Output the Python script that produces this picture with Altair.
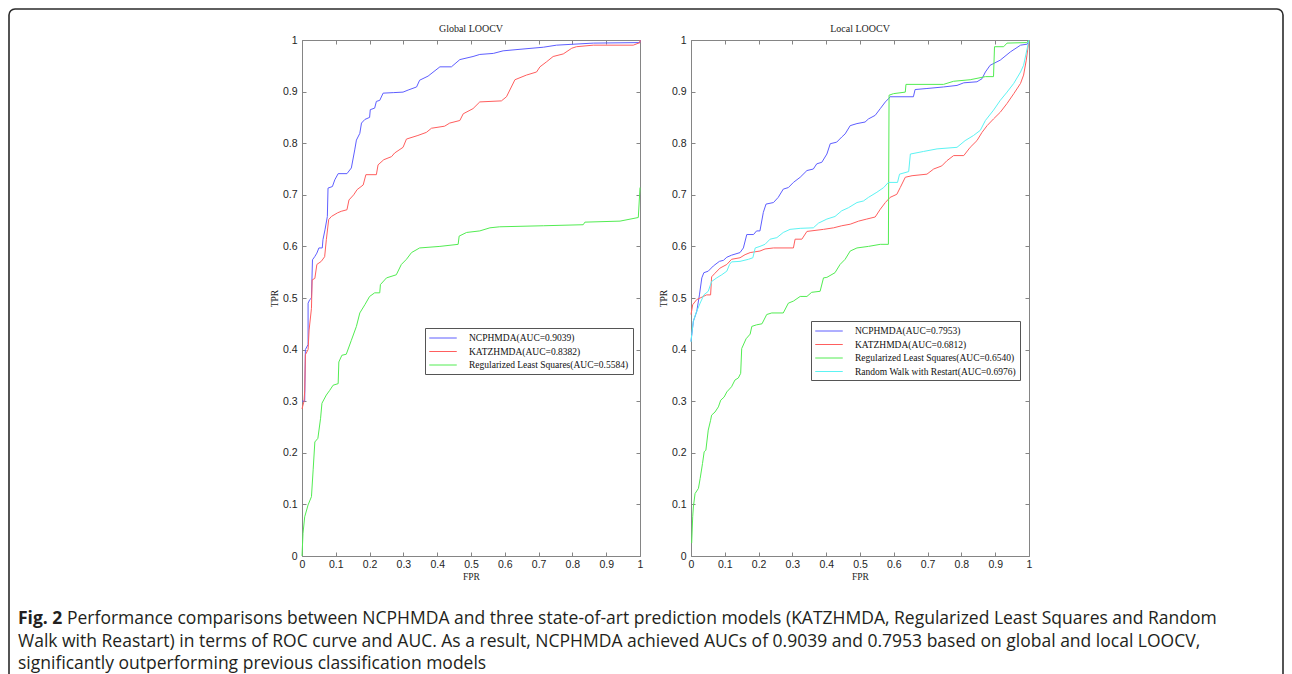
import altair as alt
import pandas as pd

# ---------------- data ----------------
TICKS = [0, 0.1, 0.2, 0.3, 0.4, 0.5, 0.6, 0.7, 0.8, 0.9, 1]

G_LABELS = ["NCPHMDA(AUC=0.9039)", "KATZHMDA(AUC=0.8382)",
            "Regularized Least Squares(AUC=0.5584)"]
L_LABELS = ["NCPHMDA(AUC=0.7953)", "KATZHMDA(AUC=0.6812)",
            "Regularized Least Squares(AUC=0.6540)",
            "Random Walk with Restart(AUC=0.6976)"]
G_COLORS = ["#5e5eff", "#ff5e5e", "#52ec52"]
L_COLORS = ["#5e5eff", "#ff5e5e", "#52ec52", "#5cf3f3"]

# Global LOOCV
G_NCP_FPR = [0, .008, .010, .018, .018, .023, .028, .031, .0375, .044, .050, .060, .062, .068, .075, .077, .090, .097, .107, .133,
             .146, .156, .161, .171, .176, .186, .200, .202, .215, .220, .230, .240, .270, .299, .314, .339, .348, .373, .408, .442,
             .467, .506, .526, .566, .595, .645, .714, .753, .862, 1.0, 1.0]
G_NCP_TPR = [.300, .300, .400, .410, .490, .497, .500, .574, .580, .587, .597, .597, .613, .632, .658, .713, .716, .729, .741, .741,
             .752, .787, .806, .819, .839, .846, .850, .865, .868, .881, .883, .897, .898, .899, .903, .909, .922, .930, .948, .948,
             .962, .968, .972, .974, .979, .982, .986, .990, .994, .995, 1.0]

G_KATZ_FPR = [0, .006, .008, .010, .018, .021, .028, .030, .038, .044, .057, .067, .072, .079, .087, .105, .116, .133, .139, .153,
              .163, .181, .189, .220, .225, .242, .265, .274, .299, .309, .343, .368, .383, .422, .437, .467, .477, .506, .526, .590,
              .605, .630, .664, .694, .704, .724, .743, .773, .798, .812, .862, .980, 1.0, 1.0]
G_KATZ_TPR = [.285, .300, .320, .390, .400, .438, .480, .535, .538, .565, .571, .580, .613, .652, .658, .665, .668, .671, .690, .700,
              .710, .719, .739, .739, .758, .768, .774, .781, .792, .808, .815, .821, .829, .833, .839, .844, .857, .867, .880, .882,
              .890, .923, .932, .938, .948, .958, .968, .973, .984, .987, .990, .990, .995, 1.0]

G_RLS_FPR = [0, .003, .008, .018, .028, .033, .038, .047, .055, .059, .072, .082, .092, .107, .109, .118, .131, .146, .161, .171,
             .186, .200, .215, .230, .232, .250, .279, .294, .309, .324, .348, .408, .462, .465, .487, .526, .556, .585, .714, .832,
             .837, .941, .995, 1.0]
G_RLS_TPR = [0, .044, .076, .099, .115, .167, .221, .228, .267, .296, .312, .321, .331, .334, .376, .389, .391, .418, .445, .471,
             .487, .503, .510, .510, .526, .539, .545, .565, .575, .588, .597, .600, .604, .620, .627, .630, .636, .638, .640, .642,
             .647, .649, .656, .714]

# Local LOOCV
L_NCP_FPR = [0, .007, .017, .025, .032, .038, .051, .066, .084, .096, .106, .120, .145, .155, .165, .185, .194, .204, .214, .222,
             .244, .258, .273, .288, .303, .323, .343, .362, .372, .387, .402, .412, .431, .446, .456, .471, .491, .515, .525, .545,
             .560, .575, .584, .589, .658, .663, .698, .747, .787, .807, .846, .861, .871, .885, .915, .945, .975, .995, 1.0]
L_NCP_TPR = [.416, .455, .474, .506, .539, .549, .552, .562, .571, .573, .579, .583, .588, .597, .623, .623, .630, .630, .666, .682,
             .685, .695, .711, .714, .724, .734, .747, .750, .760, .763, .779, .799, .802, .812, .818, .834, .838, .841, .847, .854,
             .867, .880, .886, .890, .890, .904, .906, .909, .912, .917, .919, .925, .938, .951, .961, .977, .990, .992, 1.0]

L_KATZ_FPR = [0, .005, .017, .027, .046, .058, .061, .071, .086, .106, .120, .145, .160, .175, .204, .219, .244, .303, .308, .328,
              .343, .392, .422, .446, .471, .496, .520, .545, .560, .575, .589, .609, .619, .634, .654, .698, .718, .742, .757, .777,
              .807, .826, .846, .861, .876, .895, .915, .935, .955, .975, .984, .992, 1.0]
L_KATZ_TPR = [.468, .487, .497, .500, .506, .506, .541, .548, .558, .565, .575, .578, .584, .588, .591, .595, .597, .597, .614, .614,
              .629, .633, .636, .640, .643, .649, .653, .657, .672, .685, .695, .701, .714, .734, .737, .740, .750, .756, .766, .776,
              .776, .792, .805, .821, .834, .847, .860, .877, .896, .916, .932, .961, 1.0]

L_RLS_FPR = [.002, .005, .007, .012, .022, .027, .034, .039, .044, .051, .058, .061, .071, .081, .088, .098, .106, .120, .130, .140,
             .147, .150, .163, .175, .180, .194, .210, .224, .239, .273, .288, .303, .323, .343, .357, .382, .392, .402, .426, .441,
             .456, .471, .491, .525, .560, .584, .586, .599, .634, .636, .747, .777, .826, .871, .895, .898, .925, .935, .993, 1.0]
L_RLS_TPR = [.025, .076, .095, .121, .131, .150, .179, .202, .205, .244, .263, .273, .279, .289, .302, .308, .318, .328, .341, .345,
             .354, .402, .421, .430, .445, .448, .450, .468, .471, .471, .490, .494, .503, .503, .511, .513, .539, .540, .549, .565,
             .575, .591, .597, .600, .604, .604, .893, .896, .899, .914, .914, .920, .923, .929, .929, .987, .987, .994, .995, 1.0]

L_RWR_FPR = [0, .002, .007, .015, .027, .038, .051, .061, .076, .091, .106, .114, .120, .145, .170, .183, .190, .204, .219, .234,
             .254, .273, .293, .323, .362, .377, .402, .426, .446, .466, .491, .510, .525, .550, .570, .584, .611, .617, .644, .649,
             .688, .728, .787, .811, .836, .856, .871, .895, .915, .935, .955, .975, .984, 1.0]
L_RWR_TPR = [.415, .429, .455, .471, .490, .506, .513, .532, .539, .545, .552, .565, .570, .571, .575, .578, .597, .600, .604, .614,
             .617, .627, .633, .635, .636, .645, .653, .658, .669, .675, .685, .688, .695, .705, .714, .724, .724, .740, .745, .779,
             .784, .789, .792, .805, .815, .825, .844, .864, .883, .899, .916, .938, .951, 1.0]

TITLES = ["Global LOOCV", "Local LOOCV"]
CAPTION_BOLD = "Fig. 2"
CAPTION_LINES = [
    "Performance comparisons between NCPHMDA and three state-of-art prediction models (KATZHMDA, Regularized Least Squares and Random",
    "Walk with Reastart) in terms of ROC curve and AUC. As a result, NCPHMDA achieved AUCs of 0.9039 and 0.7953 based on global and local LOOCV,",
    "significantly outperforming previous classification models",
]

# ---------------- styling ----------------
SANS = "Liberation Sans"
SERIF = "Liberation Serif"
CAPF = "Open Sans"
CAPS = 17.5
AX = "#858585"
TXT = "#1e1e1e"
W, H = 338, 516


def frame(series):
    rows = []
    for label, xs, ys in series:
        for i, (a, b) in enumerate(zip(xs, ys)):
            rows.append({"model": label, "fpr": a, "tpr": b, "i": i})
    return pd.DataFrame(rows)


def tick_axis(orient):
    return alt.Axis(orient=orient, values=TICKS, labels=False, domain=False, grid=False,
                    ticks=True, tickSize=4, offset=-4, tickColor=AX, tickWidth=1, title=None)


one = alt.Data(values=[{}])


def panel(title, labels, colors, series, lx, ly):
    df = frame(series)
    xs = alt.Scale(domain=[0, 1], nice=False, zero=False)
    ys = alt.Scale(domain=[0, 1], nice=False, zero=False)
    base = alt.Chart(df)
    x_main = alt.Axis(orient="bottom", values=TICKS, format=".1~f", title="FPR", ticks=False,
                      domain=False, grid=False, labelPadding=3, labelFont=SANS, labelFontSize=10.5,
                      labelColor=TXT, labelFlush=False, titleFont=SERIF, titleFontSize=9.5,
                      titleFontWeight="normal", titleColor=TXT, titlePadding=2)
    y_main = alt.Axis(orient="left", values=TICKS, format=".1~f", title="TPR", ticks=False,
                      domain=False, grid=False, labelPadding=5, labelFont=SANS, labelFontSize=10.5,
                      labelColor=TXT, labelFlush=False, titleFont=SERIF, titleFontSize=9.5,
                      titleFontWeight="normal", titleColor=TXT, titlePadding=3)
    legend = alt.Legend(orient="none", legendX=lx, legendY=ly, title=None,
                        symbolType="M-2.5,0H2.5", symbolSize=121, symbolStrokeWidth=1,
                        symbolOffset=8, labelOffset=20, labelFont=SERIF, labelFontSize=9.5,
                        labelColor="#111111", labelLimit=400, strokeColor="#555555",
                        fillColor="white", padding=4, rowPadding=2.5)
    lines = base.mark_line(strokeWidth=1).encode(
        x=alt.X("fpr:Q", scale=xs, axis=x_main),
        y=alt.Y("tpr:Q", scale=ys, axis=y_main),
        color=alt.Color("model:N", scale=alt.Scale(domain=labels, range=colors),
                        sort=labels, legend=legend),
        order=alt.Order("i:Q"),
    )
    t1 = base.mark_line(opacity=0).encode(
        x=alt.X("fpr:Q", scale=xs, axis=tick_axis("bottom")),
        y=alt.Y("tpr:Q", scale=ys, axis=tick_axis("left")),
        detail="model:N", order=alt.Order("i:Q"),
    )
    t2 = base.mark_line(opacity=0).encode(
        x=alt.X("fpr:Q", scale=xs, axis=tick_axis("top")),
        y=alt.Y("tpr:Q", scale=ys, axis=tick_axis("right")),
        detail="model:N", order=alt.Order("i:Q"),
    )
    ttl = alt.Chart(one).mark_text(text=title, font=SERIF, fontSize=10, color=TXT,
                                   align="center", baseline="middle").encode(
        x=alt.value(W / 2), y=alt.value(-11))
    return [t1, t2, lines, ttl]


# frame + caption (positioned relative to the left panel's plot area)
box = alt.Chart(one).mark_rect(fill="transparent", stroke="#2b2b2b", strokeWidth=1.6,
                               cornerRadius=6).encode(
    x=alt.value(-293), x2=alt.value(981), y=alt.value(-31), y2=alt.value(700))
CAP_X = -284
CAP_Y = [579, 602, 624]
cap_layers = [
    alt.Chart(one).mark_text(text=CAPTION_BOLD, font=CAPF, fontSize=CAPS, fontWeight="bold",
                             align="left", baseline="middle", color="#231f20").encode(
        x=alt.value(CAP_X), y=alt.value(CAP_Y[0])),
    alt.Chart(one).mark_text(text=CAPTION_LINES[0], font=CAPF, fontSize=CAPS, align="left",
                             baseline="middle", color="#231f20").encode(
        x=alt.value(CAP_X + 49), y=alt.value(CAP_Y[0])),
    alt.Chart(one).mark_text(text=CAPTION_LINES[1], font=CAPF, fontSize=CAPS, align="left",
                             baseline="middle", color="#231f20").encode(
        x=alt.value(CAP_X), y=alt.value(CAP_Y[1])),
    alt.Chart(one).mark_text(text=CAPTION_LINES[2], font=CAPF, fontSize=CAPS, align="left",
                             baseline="middle", color="#231f20").encode(
        x=alt.value(CAP_X), y=alt.value(CAP_Y[2])),
]

g_layers = panel(TITLES[0], G_LABELS, G_COLORS, [
    (G_LABELS[0], G_NCP_FPR, G_NCP_TPR),
    (G_LABELS[1], G_KATZ_FPR, G_KATZ_TPR),
    (G_LABELS[2], G_RLS_FPR, G_RLS_TPR),
], 123, 288)

l_layers = panel(TITLES[1], L_LABELS, L_COLORS, [
    (L_LABELS[0], L_NCP_FPR, L_NCP_TPR),
    (L_LABELS[1], L_KATZ_FPR, L_KATZ_TPR),
    (L_LABELS[2], L_RLS_FPR, L_RLS_TPR),
    (L_LABELS[3], L_RWR_FPR, L_RWR_TPR),
], 120, 281)

left = alt.layer(box, *g_layers, *cap_layers).resolve_axis(
    x="independent", y="independent").properties(width=W, height=H)
right = alt.layer(*l_layers).resolve_axis(
    x="independent", y="independent").properties(width=W, height=H)

chart = alt.hconcat(left, right, spacing=51, bounds="flush").resolve_scale(
    color="independent", x="independent", y="independent").properties(
    autosize=alt.AutoSizeParams(type="none"),
    padding={"left": 294, "top": 32, "right": 982, "bottom": 626},
    background="white").configure_view(stroke=AX, strokeWidth=1)

chart.save("out.html", embed_options={"renderer": "svg", "actions": False})
